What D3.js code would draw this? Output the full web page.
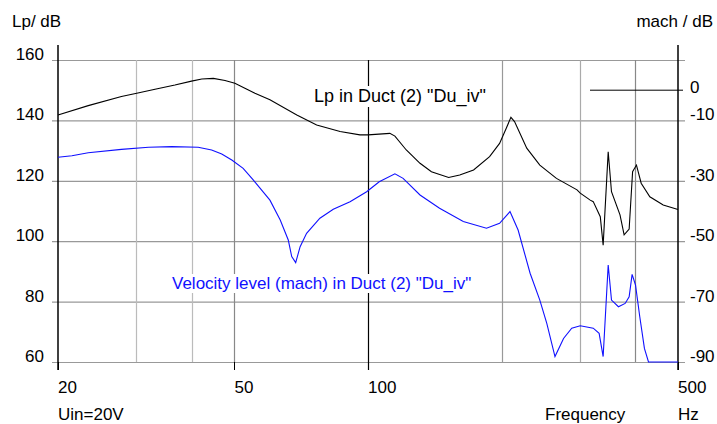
<!DOCTYPE html>
<html>
<head>
<meta charset="utf-8">
<script src="https://cdn.jsdelivr.net/npm/d3@7"></script>
<style>
  body { margin: 0; background: #fff; }
  text { font-family: "Liberation Sans", Arial, sans-serif; font-size: 17px; }
</style>
</head>
<body>
<div id="chart"></div>
<script>
// Lp in Duct (2) -- left axis, dB
var lpFreq = [20, 23.4, 27.8, 30.1, 33.1, 36.7, 40, 42.2, 44.8, 47.6, 50.1, 55.6, 60.1, 69.1, 76.6, 86.5,
  95.9, 100, 112, 115, 122, 131, 139, 152, 161, 173, 188, 198, 205, 210, 214, 228, 244, 266, 296, 301,
  317, 322, 334, 339, 348, 354, 370, 378, 388, 395, 403, 413, 432, 463, 500];
var lpLevel = [141.8, 144.9, 147.9, 149.0, 150.3, 151.7, 153.0, 153.7, 153.9, 153.2, 152.3, 149.0, 146.8,
  141.8, 138.5, 136.3, 135.2, 135.2, 135.7, 134.8, 130.2, 125.8, 123.0, 121.1, 121.9, 123.6, 128.0, 132.4,
  137.4, 141.0, 139.6, 130.8, 125.2, 120.8, 117.0, 115.9, 113.6, 113.1, 108.1, 98.7, 129.6, 116.4, 108.7,
  102.1, 104.0, 123.0, 125.2, 119.2, 114.7, 112.0, 110.5];

// Velocity level (mach) in Duct (2) -- right axis, mach / dB
var velFreq = [20, 21.5, 23.4, 27.8, 32, 36.1, 41.4, 44.4, 46.8, 49.3, 52.3, 55.1, 60.1, 63.4, 66.1, 67.3,
  68.7, 70.3, 72.7, 77.9, 83.5, 91.1, 99.3, 106, 115, 120, 131, 145, 164, 185, 198, 209, 218, 232, 244,
  253, 264, 276, 288, 301, 322, 332, 339, 348, 354, 367, 380, 388, 394, 401, 410, 420, 429, 500];
var velLevel = [-22.2, -21.7, -20.7, -19.6, -18.9, -18.7, -18.9, -19.8, -21.1, -23.1, -25.9, -29.7, -36.4,
  -43.0, -49.6, -55.1, -57.1, -51.8, -47.4, -42.4, -39.4, -36.9, -33.6, -30.3, -27.7, -29.2, -34.7, -39.1,
  -43.5, -45.7, -44.1, -40.2, -46.3, -60.6, -69.5, -77.2, -88.2, -82.2, -78.8, -78.0, -78.8, -80.5, -88.2,
  -57.9, -69.5, -71.7, -70.6, -68.4, -61.0, -64.5, -75.0, -85.5, -90.0, -90.0];

var leftTicks = [60, 80, 100, 120, 140, 160];
var rightTicks = [0, -10, -30, -50, -70, -90];
var freqLabels = [20, 50, 100, 500];
var freqGrid = [30, 40, 50, 100, 200, 300, 400];

var width = 717;
var height = 424;
var plotLeft = 58;
var plotRight = 678;
var plotTop = 60;
var plotBottom = 362;

var svg = d3.select('#chart')
    .append('svg')
    .attr('width', width)
    .attr('height', height);

// Scales
var scaleX = d3.scaleLog()
    .domain([20, 500])
    .range([plotLeft, plotRight]);
var scaleY = d3.scaleLinear()
    .domain([60, 160])
    .range([plotBottom, plotTop]);
var scaleYR = d3.scaleLinear()
    .domain([-90, 10])
    .range([plotBottom, plotTop]);

// Horizontal grid
svg.append('g').selectAll('line')
    .data(leftTicks)
    .enter()
    .append('line')
    .attr('x1', plotLeft - 6)
    .attr('x2', plotRight + 7)
    .attr('y1', function(d) { return scaleY(d) + 0.5; })
    .attr('y2', function(d) { return scaleY(d) + 0.5; })
    .attr('stroke', '#999')
    .attr('stroke-width', 1.2);

// Vertical grid
var gridColor = { 30: '#bbb', 40: '#bbb', 50: '#888', 100: '#000', 200: '#999', 300: '#aaa', 400: '#888' };
svg.append('g').selectAll('line')
    .data(freqGrid)
    .enter()
    .append('line')
    .attr('x1', function(d) { return Math.round(scaleX(d)) + 0.5; })
    .attr('x2', function(d) { return Math.round(scaleX(d)) + 0.5; })
    .attr('y1', plotTop)
    .attr('y2', function(d) { return d === 100 ? plotBottom + 8 : plotBottom; })
    .attr('stroke', function(d) { return gridColor[d]; })
    .attr('stroke-width', 1.2);

// Bottom ticks
svg.append('g').selectAll('line')
    .data(freqLabels)
    .enter()
    .append('line')
    .attr('x1', function(d) { return Math.round(scaleX(d)) + 0.5; })
    .attr('x2', function(d) { return Math.round(scaleX(d)) + 0.5; })
    .attr('y1', plotBottom)
    .attr('y2', plotBottom + 8)
    .attr('stroke', '#000');

// Axes lines
svg.append('line')
    .attr('x1', plotLeft).attr('x2', plotLeft)
    .attr('y1', 45).attr('y2', plotBottom + 8)
    .attr('stroke', '#000').attr('stroke-width', 1.5);
svg.append('line')
    .attr('x1', plotRight).attr('x2', plotRight)
    .attr('y1', 45).attr('y2', plotBottom + 8)
    .attr('stroke', '#000').attr('stroke-width', 1.5);

// Marker line at 0 mach/dB
svg.append('line')
    .attr('x1', 590).attr('x2', plotRight + 5)
    .attr('y1', scaleYR(0)).attr('y2', scaleYR(0))
    .attr('stroke', '#000');

// Curves
var lpLine = d3.line()
    .x(function(d, i) { return scaleX(lpFreq[i]); })
    .y(function(d) { return scaleY(d); });
var velLine = d3.line()
    .x(function(d, i) { return scaleX(velFreq[i]); })
    .y(function(d) { return scaleYR(d); });

svg.append('path')
    .attr('d', lpLine(lpLevel))
    .attr('fill', 'none')
    .attr('stroke', '#000')
    .attr('stroke-width', 1.1);
svg.append('path')
    .attr('d', velLine(velLevel))
    .attr('fill', 'none')
    .attr('stroke', '#1010ff')
    .attr('stroke-width', 1.1);

// Curve labels with white background
function label(txt, x, y, color, size) {
  var t = svg.append('text')
      .attr('x', x)
      .attr('y', y)
      .attr('fill', color)
      .style('font-size', size + 'px')
      .text(txt);
  var b = t.node().getBBox();
  svg.insert('rect', 'text')
      .attr('x', b.x - 1)
      .attr('y', b.y)
      .attr('width', b.width + 2)
      .attr('height', b.height)
      .attr('fill', '#fff');
}
label('Lp in Duct (2) "Du_iv"', 314, 102, '#000', 18);
label('Velocity level (mach) in Duct (2) "Du_iv"', 172, 289, '#1010ff', 17);

// Left tick labels
svg.append('g').selectAll('text')
    .data(leftTicks)
    .enter()
    .append('text')
    .attr('x', 44)
    .attr('y', function(d) { return scaleY(d); })
    .attr('text-anchor', 'end')
    .text(function(d) { return d; });

// Right tick labels
svg.append('g').selectAll('text')
    .data(rightTicks)
    .enter()
    .append('text')
    .attr('x', 690)
    .attr('y', function(d) { return scaleYR(d) + (d === 0 ? 3 : 0); })
    .text(function(d) { return d; });

// Bottom tick labels
svg.append('g').selectAll('text')
    .data(freqLabels)
    .enter()
    .append('text')
    .attr('x', function(d) { return scaleX(d); })
    .attr('y', 393)
    .text(function(d) { return d; });

// Titles
svg.append('text').attr('x', 12).attr('y', 27).text('Lp/ dB');
svg.append('text').attr('x', 713).attr('y', 27).attr('text-anchor', 'end').text('mach / dB');
svg.append('text').attr('x', 58).attr('y', 420).text('Uin=20V');
svg.append('text').attr('x', 545).attr('y', 420).text('Frequency');
svg.append('text').attr('x', 678).attr('y', 420).text('Hz');
</script>
</body>
</html>
